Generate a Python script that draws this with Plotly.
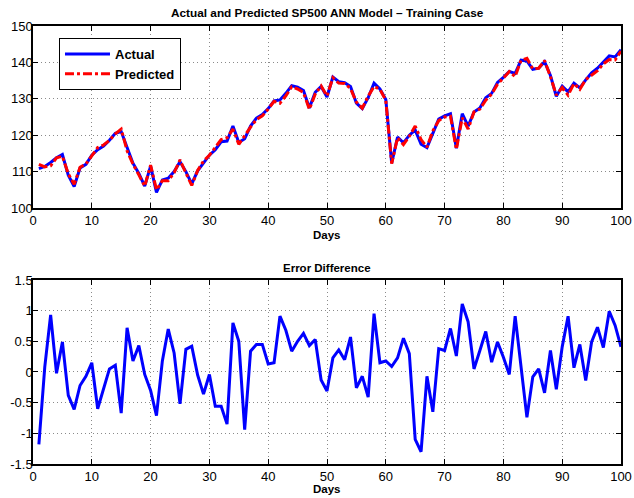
import plotly.graph_objects as go

days = list(range(1, 101))

actual = [110.8, 111.4, 112.5, 113.8, 114.7, 109.0, 105.9, 111.0, 112.0, 114.5,
          116.0, 117.0, 118.6, 120.5, 121.0, 116.4, 112.3, 109.5, 106.0, 111.5,
          104.3, 107.7, 108.2, 110.0, 112.7, 110.0, 106.6, 110.2, 112.5, 114.5,
          116.0, 118.2, 118.4, 122.5, 118.0, 119.0, 122.5, 124.7, 125.7, 127.3,
          129.4, 129.7, 131.5, 133.6, 133.2, 132.3, 127.5, 131.8, 133.4, 130.5,
          136.0, 134.7, 134.4, 133.4, 128.8, 127.3, 130.3, 134.3, 132.7, 129.8,
          112.3, 119.5, 117.9, 120.0, 121.4, 117.5, 116.6, 120.5, 124.4, 125.3,
          125.9, 116.4, 125.9, 122.5, 126.4, 127.5, 130.3, 131.5, 134.5, 135.9,
          137.5, 137.0, 140.6, 140.4, 138.1, 138.4, 140.2, 136.4, 130.7, 133.5,
          131.9, 134.3, 133.0, 135.2, 137.1, 138.4, 140.0, 141.8, 141.5, 143.5]

predicted = [112.0, 111.3, 111.6, 113.8, 114.2, 109.4, 106.5, 111.2, 112.1, 114.4,
             116.6, 117.3, 118.6, 120.4, 121.7, 115.7, 112.1, 109.1, 106.0, 111.8,
             105.0, 107.5, 107.5, 109.7, 113.2, 109.6, 106.2, 110.3, 112.9, 114.5,
             116.6, 118.8, 119.3, 121.7, 117.5, 119.9, 122.2, 124.3, 125.3, 127.2,
             129.3, 128.8, 130.8, 133.3, 132.7, 131.7, 127.1, 131.3, 133.5, 130.8,
             135.8, 134.3, 134.2, 132.8, 129.1, 127.4, 130.7, 133.4, 132.6, 129.6,
             112.2, 119.3, 117.4, 119.7, 122.5, 118.8, 116.7, 121.2, 124.0, 125.0,
             125.2, 116.1, 124.8, 121.7, 126.4, 127.2, 129.6, 131.3, 134.0, 135.7,
             137.5, 136.1, 140.6, 141.1, 138.2, 138.4, 140.5, 136.1, 131.0, 133.1,
             131.0, 134.2, 132.6, 135.3, 136.6, 137.7, 139.6, 140.8, 140.7, 143.1]

error = [-1.18, 0.08, 0.93, -0.02, 0.49, -0.38, -0.61, -0.22, -0.07, 0.15,
         -0.60, -0.27, 0.05, 0.11, -0.67, 0.72, 0.18, 0.43, -0.04, -0.30,
         -0.71, 0.18, 0.70, 0.31, -0.52, 0.37, 0.42, -0.05, -0.36, -0.04,
         -0.56, -0.56, -0.85, 0.80, 0.50, -0.94, 0.34, 0.45, 0.45, 0.13,
         0.15, 0.91, 0.68, 0.34, 0.50, 0.63, 0.43, 0.53, -0.13, -0.31,
         0.23, 0.36, 0.20, 0.57, -0.26, -0.07, -0.41, 0.95, 0.15, 0.18,
         0.09, 0.23, 0.55, 0.30, -1.10, -1.30, -0.07, -0.65, 0.38, 0.35,
         0.71, 0.26, 1.11, 0.82, 0.05, 0.35, 0.66, 0.16, 0.49, 0.24,
         -0.04, 0.91, 0.05, -0.74, -0.08, 0.05, -0.34, 0.35, -0.28, 0.41,
         0.91, 0.07, 0.45, -0.14, 0.49, 0.73, 0.40, 0.99, 0.76, 0.41]

x_ticks = [0, 10, 20, 30, 40, 50, 60, 70, 80, 90, 100]
y1_ticks = [100, 110, 120, 130, 140, 150]
y2_ticks = [-1.5, -1, -0.5, 0, 0.5, 1, 1.5]
y2_labels = ["-1.5", "-1", "-0.5", "0", "0.5", "1", "1.5"]

FONT = "Liberation Sans, Arial, Helvetica, sans-serif"

fig = go.Figure()
fig.add_trace(go.Scatter(x=days, y=actual, mode="lines", name="<b>Actual</b>",
                         line=dict(color="#0000ff", width=3), xaxis="x", yaxis="y"))
fig.add_trace(go.Scatter(x=days, y=predicted, mode="lines", name="<b>Predicted</b>",
                         line=dict(color="#ff0000", width=3, dash="dashdot"), xaxis="x", yaxis="y"))
fig.add_trace(go.Scatter(x=days, y=error, mode="lines", showlegend=False,
                         line=dict(color="#0000ff", width=3), xaxis="x2", yaxis="y2"))

axis_common = dict(showline=True, linecolor="black", linewidth=1.5, mirror="ticks",
                   ticks="inside", ticklen=5, tickcolor="black", tickwidth=1,
                   showgrid=True, gridcolor="#8a8a8a", griddash="1px,3px", gridwidth=1,
                   zeroline=False, automargin=False,
                   tickfont=dict(family=FONT, size=13, color="black"))

fig.update_layout(
    width=634, height=498,
    margin=dict(l=33, r=13, t=26, b=34),
    paper_bgcolor="white", plot_bgcolor="white",
    font=dict(family=FONT, color="black"),
    xaxis=dict(domain=[0, 1], anchor="y", range=[0, 100], tickvals=x_ticks, **axis_common),
    yaxis=dict(domain=[0.5845, 1], anchor="x", range=[100, 150], tickvals=y1_ticks,
               ticklabelstandoff=-4, **axis_common),
    xaxis2=dict(domain=[0, 1], anchor="y2", range=[0, 100], tickvals=x_ticks, **axis_common),
    yaxis2=dict(domain=[0, 0.4201], anchor="x2", range=[-1.5, 1.5], tickvals=y2_ticks,
                ticktext=y2_labels, ticklabelstandoff=-4, **axis_common),
    legend=dict(x=0.0442, y=0.9726, xanchor="left", yanchor="top",
                bgcolor="white", bordercolor="black", borderwidth=1,
                font=dict(family=FONT, size=13, color="black"),
                tracegroupgap=0, itemwidth=45),
    showlegend=True,
    annotations=[
        dict(text="<b>Actual and Predicted SP500 ANN Model \u2013 Training Case</b>",
             xref="paper", yref="paper", x=0.5, y=(464 - 13) / 438, xanchor="center",
             yanchor="middle", showarrow=False, font=dict(family=FONT, size=11.8)),
        dict(text="<b>Days</b>", xref="paper", yref="paper", x=0.5, y=(464 - 235) / 438,
             xanchor="center", yanchor="middle", showarrow=False, font=dict(family=FONT, size=11.5)),
        dict(text="<b>Error Difference</b>", xref="paper", yref="paper", x=0.5,
             y=(464 - 267.5) / 438, xanchor="center", yanchor="middle", showarrow=False,
             font=dict(family=FONT, size=11.5)),
        dict(text="<b>Days</b>", xref="paper", yref="paper", x=0.5, y=(464 - 489) / 438,
             xanchor="center", yanchor="middle", showarrow=False, font=dict(family=FONT, size=11.5)),
    ],
)

fig.write_html("out.html")
